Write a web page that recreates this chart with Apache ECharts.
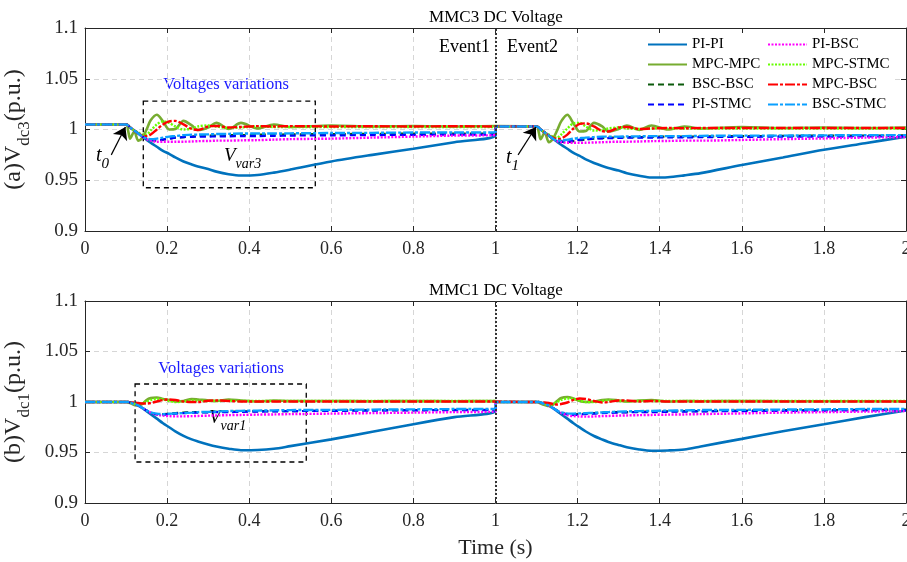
<!DOCTYPE html>
<html><head><meta charset="utf-8">
<script src="https://cdn.jsdelivr.net/npm/echarts@6/dist/echarts.min.js"></script>
<style>html,body{margin:0;padding:0;background:#fff}#c{width:907px;height:562px}</style>
</head><body><div id="c"></div>
<script>
// ---------- DATA ----------
const time = [0, 0.1, 0.105, 0.11, 0.12, 0.13, 0.14, 0.15, 0.16, 0.175, 0.19, 0.205, 0.22, 0.24, 0.26, 0.275, 0.3, 0.32, 0.35, 0.38, 0.42, 0.46, 0.5, 0.6, 0.7, 0.8, 0.9, 1.0,
  1.001, 1.1, 1.105, 1.11, 1.12, 1.13, 1.14, 1.15, 1.16, 1.175, 1.19, 1.205, 1.22, 1.24, 1.26, 1.275, 1.3, 1.32, 1.35, 1.38, 1.42, 1.46, 1.5, 1.6, 1.7, 1.8, 1.9, 2.0];

const seriesNames = ['PI-PI', 'MPC-MPC', 'BSC-BSC', 'PI-STMC', 'PI-BSC', 'MPC-STMC', 'MPC-BSC', 'BSC-STMC'];
const legendCol1 = ['PI-PI', 'MPC-MPC', 'BSC-BSC', 'PI-STMC'];
const legendCol2 = ['PI-BSC', 'MPC-STMC', 'MPC-BSC', 'BSC-STMC'];
const xTicks = { min: 0, max: 2, interval: 0.2 };
const yTicks = { min: 0.9, max: 1.1, interval: 0.05 };

// MMC3 DC voltage (top)
const mmc3_PI_PI = [1.005, 1.005, 1.004, 1.002, 0.999, 0.996, 0.993, 0.990, 0.987, 0.983, 0.979, 0.976, 0.9725, 0.9685, 0.9655, 0.9635, 0.961, 0.9585, 0.956, 0.9547, 0.9552, 0.9575, 0.9605, 0.9685, 0.975, 0.981, 0.9875, 0.994,
  1.003, 1.003, 1.002, 1.000, 0.997, 0.994, 0.991, 0.988, 0.985, 0.981, 0.977, 0.974, 0.9705, 0.967, 0.964, 0.962, 0.9595, 0.957, 0.9545, 0.9527, 0.953, 0.9548, 0.957, 0.965, 0.9725, 0.980, 0.9865, 0.993];
const mmc3_MPC_MPC = [1.005, 1.005, 0.999, 0.991, 0.998, 0.989, 0.992, 1.000, 1.009, 1.0145, 1.008, 1.000, 1.0005, 1.0085, 1.004, 0.9995, 1.002, 1.0065, 1.0005, 1.0065, 1.001, 1.005, 1.0025, 1.004, 1.003, 1.0035, 1.003, 1.0035,
  1.003, 1.003, 0.998, 0.9905, 0.997, 0.9875, 0.991, 0.999, 1.008, 1.0145, 1.006, 0.998, 0.9985, 1.0065, 1.003, 0.998, 1.0005, 1.004, 0.9995, 1.004, 1.000, 1.003, 1.001, 1.0025, 1.0015, 1.002, 1.0015, 1.002];
const mmc3_BSC_BSC = [1.005, 1.005, 1.004, 1.002, 0.999, 0.996, 0.993, 0.991, 0.9895, 0.989, 0.990, 0.991, 0.992, 0.9925, 0.993, 0.9935, 0.994, 0.994, 0.9945, 0.9945, 0.995, 0.995, 0.9952, 0.9955, 0.9957, 0.996, 0.996, 0.9962,
  1.003, 1.003, 1.002, 1.000, 0.997, 0.994, 0.991, 0.989, 0.988, 0.9875, 0.9885, 0.9895, 0.990, 0.991, 0.9915, 0.992, 0.9922, 0.9925, 0.9925, 0.9928, 0.993, 0.993, 0.9932, 0.9935, 0.9937, 0.994, 0.994, 0.9942];
const mmc3_PI_STMC = [1.005, 1.005, 1.004, 1.002, 0.999, 0.996, 0.993, 0.9905, 0.9895, 0.9895, 0.990, 0.991, 0.992, 0.9925, 0.9928, 0.993, 0.993, 0.9932, 0.9933, 0.9935, 0.9935, 0.9937, 0.994, 0.9942, 0.9945, 0.9947, 0.995, 0.995,
  1.003, 1.003, 1.002, 1.000, 0.997, 0.994, 0.991, 0.989, 0.988, 0.988, 0.989, 0.990, 0.9905, 0.991, 0.9913, 0.9915, 0.9917, 0.992, 0.992, 0.992, 0.9922, 0.9922, 0.9925, 0.9927, 0.993, 0.993, 0.9932, 0.9935];
const mmc3_PI_BSC = [1.005, 1.005, 1.004, 1.002, 0.999, 0.996, 0.993, 0.9905, 0.989, 0.988, 0.988, 0.988, 0.988, 0.988, 0.9882, 0.9885, 0.9887, 0.989, 0.989, 0.9893, 0.9895, 0.990, 0.9905, 0.991, 0.992, 0.993, 0.994, 0.9945,
  1.003, 1.003, 1.002, 1.000, 0.997, 0.994, 0.991, 0.9885, 0.9875, 0.987, 0.987, 0.987, 0.987, 0.9872, 0.9875, 0.9877, 0.988, 0.988, 0.9882, 0.9885, 0.9887, 0.989, 0.989, 0.9897, 0.9905, 0.9912, 0.992, 0.9925];
const mmc3_MPC_STMC = [1.005, 1.005, 1.004, 1.002, 0.999, 0.997, 0.995, 0.995, 0.999, 1.005, 1.008, 1.0065, 1.003, 1.000, 1.001, 1.003, 1.004, 1.003, 1.0015, 1.002, 1.003, 1.0025, 1.0025, 1.0025, 1.0025, 1.0025, 1.0025, 1.0025,
  1.003, 1.003, 1.002, 1.000, 0.997, 0.995, 0.993, 0.992, 0.995, 1.001, 1.006, 1.0065, 1.003, 0.999, 0.9995, 1.001, 1.002, 1.001, 1.0005, 1.001, 1.0012, 1.001, 1.001, 1.001, 1.001, 1.001, 1.001, 1.001];
const mmc3_MPC_BSC = [1.005, 1.005, 1.004, 1.002, 0.999, 0.996, 0.994, 0.9935, 0.995, 1.000, 1.005, 1.008, 1.0085, 1.005, 1.0005, 0.9995, 1.003, 1.0035, 1.002, 1.0025, 1.0033, 1.003, 1.0033, 1.003, 1.0032, 1.003, 1.0032, 1.003,
  1.003, 1.003, 1.002, 1.000, 0.997, 0.994, 0.992, 0.9905, 0.991, 0.995, 1.001, 1.0055, 1.006, 1.003, 0.9985, 0.998, 1.002, 1.0025, 1.0005, 1.001, 1.0015, 1.0012, 1.0015, 1.0015, 1.0015, 1.0015, 1.0015, 1.0015];
const mmc3_BSC_STMC = [1.005, 1.005, 1.004, 1.002, 0.999, 0.996, 0.993, 0.991, 0.9905, 0.991, 0.992, 0.993, 0.9935, 0.9945, 0.995, 0.995, 0.9952, 0.9955, 0.9957, 0.996, 0.996, 0.996, 0.9962, 0.9965, 0.9967, 0.997, 0.997, 0.9972,
  1.003, 1.003, 1.002, 1.000, 0.997, 0.994, 0.991, 0.989, 0.989, 0.990, 0.991, 0.9915, 0.992, 0.9925, 0.993, 0.993, 0.993, 0.9932, 0.9933, 0.9935, 0.9935, 0.9935, 0.9937, 0.994, 0.994, 0.9942, 0.9945, 0.9945];

// MMC1 DC voltage (bottom)
const mmc1_PI_PI = [1.000, 1.000, 1.000, 0.9995, 0.998, 0.9965, 0.994, 0.991, 0.988, 0.9835, 0.979, 0.975, 0.971, 0.9665, 0.963, 0.961, 0.958, 0.956, 0.9538, 0.9523, 0.9525, 0.9537, 0.9563, 0.963, 0.9705, 0.978, 0.985, 0.991,
  1.000, 1.000, 1.000, 0.9995, 0.998, 0.9965, 0.994, 0.991, 0.988, 0.9835, 0.979, 0.9748, 0.9708, 0.9663, 0.9628, 0.9605, 0.9575, 0.9553, 0.953, 0.9517, 0.952, 0.953, 0.956, 0.9635, 0.971, 0.978, 0.985, 0.9915];
const mmc1_MPC_MPC = [1.000, 1.000, 0.9995, 0.999, 0.997, 0.9965, 0.998, 1.002, 1.004, 1.0045, 1.003, 1.002, 1.0005, 1.001, 1.003, 1.0025, 1.0015, 1.001, 1.0025, 1.0015, 1.0005, 1.0015, 1.001, 1.001, 1.0008, 1.001, 1.0008, 1.001,
  1.000, 1.000, 0.9995, 0.9985, 0.997, 0.996, 0.9975, 1.001, 1.004, 1.005, 1.0035, 1.001, 1.000, 1.0005, 1.002, 1.0025, 1.0015, 1.0005, 1.0015, 1.002, 1.0005, 1.001, 1.0008, 1.001, 1.0008, 1.0008, 1.0008, 1.0008];
const mmc1_BSC_BSC = [1.000, 1.000, 1.000, 0.9995, 0.998, 0.9965, 0.994, 0.9915, 0.9895, 0.988, 0.988, 0.9885, 0.989, 0.9895, 0.990, 0.990, 0.990, 0.9903, 0.9905, 0.9907, 0.991, 0.991, 0.991, 0.9915, 0.992, 0.992, 0.9922, 0.9925,
  1.000, 1.000, 1.000, 0.9995, 0.998, 0.9965, 0.994, 0.9915, 0.9895, 0.988, 0.9878, 0.988, 0.9885, 0.989, 0.9895, 0.990, 0.990, 0.990, 0.9903, 0.9905, 0.9908, 0.991, 0.991, 0.9915, 0.992, 0.992, 0.9922, 0.9925];
const mmc1_PI_STMC = [1.000, 1.000, 1.000, 0.9995, 0.998, 0.9965, 0.994, 0.9915, 0.9895, 0.9878, 0.9875, 0.988, 0.9885, 0.989, 0.9893, 0.9895, 0.9897, 0.990, 0.990, 0.9902, 0.9905, 0.9907, 0.991, 0.9912, 0.9915, 0.9917, 0.992, 0.992,
  1.000, 1.000, 1.000, 0.9995, 0.998, 0.9965, 0.994, 0.9915, 0.9893, 0.9877, 0.9873, 0.9877, 0.988, 0.9885, 0.989, 0.9892, 0.9895, 0.9897, 0.990, 0.990, 0.9903, 0.9905, 0.9907, 0.991, 0.9912, 0.9915, 0.9917, 0.992];
const mmc1_PI_BSC = [1.000, 1.000, 1.000, 0.9995, 0.998, 0.9965, 0.994, 0.9915, 0.9895, 0.9875, 0.9865, 0.986, 0.9858, 0.9858, 0.986, 0.9862, 0.9865, 0.9867, 0.987, 0.9872, 0.9875, 0.9877, 0.988, 0.9885, 0.989, 0.9895, 0.990, 0.9905,
  1.000, 1.000, 1.000, 0.9995, 0.998, 0.9965, 0.994, 0.9915, 0.9893, 0.987, 0.986, 0.9857, 0.9855, 0.9857, 0.986, 0.9862, 0.9865, 0.9867, 0.987, 0.9872, 0.9875, 0.9877, 0.988, 0.9887, 0.9895, 0.990, 0.9905, 0.991];
const mmc1_MPC_STMC = [1.000, 1.000, 1.000, 0.9995, 0.998, 0.9975, 0.9985, 1.0005, 1.002, 1.003, 1.0025, 1.001, 1.000, 1.0005, 1.0015, 1.0012, 1.001, 1.001, 1.0012, 1.001, 1.001, 1.001, 1.001, 1.001, 1.001, 1.001, 1.001, 1.001,
  1.000, 1.000, 1.000, 0.9995, 0.998, 0.997, 0.998, 1.000, 1.002, 1.0035, 1.003, 1.0015, 1.000, 1.000, 1.001, 1.0015, 1.001, 1.0008, 1.001, 1.001, 1.001, 1.001, 1.001, 1.001, 1.001, 1.001, 1.001, 1.001];
const mmc1_MPC_BSC = [1.000, 1.000, 1.000, 0.9995, 0.9995, 0.999, 0.9985, 0.9985, 0.999, 1.0005, 1.002, 1.0025, 1.002, 1.0005, 1.000, 1.000, 1.0012, 1.0015, 1.001, 1.0005, 1.0005, 1.0005, 1.0005, 1.0005, 1.0005, 1.0005, 1.0005, 1.0005,
  1.000, 1.000, 1.000, 0.9995, 0.9995, 0.999, 0.998, 0.9975, 0.998, 0.9995, 1.002, 1.0035, 1.003, 1.001, 0.9995, 1.000, 1.0015, 1.0015, 1.0005, 1.001, 1.0005, 1.0005, 1.0005, 1.0005, 1.0005, 1.0005, 1.0005, 1.0005];
const mmc1_BSC_STMC = [1.000, 1.000, 1.000, 0.9995, 0.998, 0.9965, 0.994, 0.9915, 0.9898, 0.9885, 0.988, 0.9883, 0.9887, 0.989, 0.9895, 0.990, 0.9902, 0.9905, 0.991, 0.9912, 0.9915, 0.9917, 0.992, 0.9922, 0.9925, 0.9927, 0.993, 0.993,
  1.000, 1.000, 1.000, 0.9995, 0.998, 0.9965, 0.994, 0.9915, 0.9897, 0.9887, 0.9885, 0.9887, 0.989, 0.9893, 0.9897, 0.990, 0.9905, 0.9907, 0.991, 0.9912, 0.9915, 0.9917, 0.992, 0.9922, 0.9925, 0.9927, 0.993, 0.993];

const topValues = { 'PI-PI': mmc3_PI_PI, 'MPC-MPC': mmc3_MPC_MPC, 'BSC-BSC': mmc3_BSC_BSC, 'PI-STMC': mmc3_PI_STMC,
  'PI-BSC': mmc3_PI_BSC, 'MPC-STMC': mmc3_MPC_STMC, 'MPC-BSC': mmc3_MPC_BSC, 'BSC-STMC': mmc3_BSC_STMC };
const bottomValues = { 'PI-PI': mmc1_PI_PI, 'MPC-MPC': mmc1_MPC_MPC, 'BSC-BSC': mmc1_BSC_BSC, 'PI-STMC': mmc1_PI_STMC,
  'PI-BSC': mmc1_PI_BSC, 'MPC-STMC': mmc1_MPC_STMC, 'MPC-BSC': mmc1_MPC_BSC, 'BSC-STMC': mmc1_BSC_STMC };

// ---------- STYLE ----------
const FONT = 'Liberation Serif';
const INK = '#262626';
const styles = {
  'PI-PI':    { color: '#0072BD', type: 'solid', width: 2.6 },
  'MPC-MPC':  { color: '#77AC30', type: 'solid', width: 2.6 },
  'BSC-BSC':  { color: '#0B5A0B', type: [6, 4], width: 2.2 },
  'PI-STMC':  { color: '#0000FF', type: [6, 4], width: 2.2 },
  'PI-BSC':   { color: '#FF00FF', type: [2, 1.5], width: 2.4 },
  'MPC-STMC': { color: '#66FF00', type: [2, 1.5], width: 2.4 },
  'MPC-BSC':  { color: '#FF0000', type: [10, 2, 3, 2], width: 2.4 },
  'BSC-STMC': { color: '#0AA0FF', type: [10, 2, 3, 2], width: 2.4 }
};

function makeSeries(name, vals, axisIdx) {
  const st = styles[name];
  return {
    name, type: 'line', xAxisIndex: axisIdx, yAxisIndex: axisIdx,
    data: time.map((t, i) => [t, vals[i]]),
    symbol: 'none', showSymbol: false, smooth: 0.3, animation: false,
    itemStyle: { color: st.color },
    lineStyle: { color: st.color, type: st.type, width: st.width },
    emphasis: { disabled: true }
  };
}

const series = [];
seriesNames.forEach(n => series.push(makeSeries(n, topValues[n], 0)));
seriesNames.forEach(n => series.push(makeSeries(n, bottomValues[n], 2)));

// annotations (event line, arrows, boxes)
const eventLine = { xAxis: 1, lineStyle: { color: '#333', type: [2, 2], width: 2 } };
series[0].markLine = {
  silent: true, animation: false, symbol: ['none', 'none'], label: { show: false },
  lineStyle: { color: '#000', type: 'solid', width: 1.2 },
  data: [
    eventLine,
    [{ coord: [0.064, 0.975], symbol: 'none' }, { coord: [0.0985, 1.0025], symbol: 'arrow', symbolSize: 12 }],
    [{ coord: [1.055, 0.975], symbol: 'none' }, { coord: [1.0985, 1.0025], symbol: 'arrow', symbolSize: 12 }]
  ]
};
series[0].markArea = {
  silent: true, animation: false, label: { show: false },
  itemStyle: { color: 'rgba(0,0,0,0)', borderColor: '#000', borderWidth: 1.3, borderType: [5, 4] },
  data: [[{ coord: [0.142, 1.0279] }, { coord: [0.561, 0.9426] }]]
};
series[8].markLine = {
  silent: true, animation: false, symbol: ['none', 'none'], label: { show: false },
  data: [eventLine]
};
series[8].markArea = {
  silent: true, animation: false, label: { show: false },
  itemStyle: { color: 'rgba(0,0,0,0)', borderColor: '#000', borderWidth: 1.3, borderType: [5, 4] },
  data: [[{ coord: [0.122, 1.0178] }, { coord: [0.539, 0.9406] }]]
};

function xAx(grid, pos, withLabels, name) {
  return {
    type: 'value', gridIndex: grid, position: pos, min: xTicks.min, max: xTicks.max, interval: xTicks.interval,
    axisLine: { show: true, onZero: false, lineStyle: { color: INK, width: 1 } },
    axisTick: { show: true, inside: true, length: 5, lineStyle: { color: INK } },
    axisLabel: { show: withLabels, fontFamily: FONT, fontSize: 18, color: INK, margin: 9 },
    splitLine: { show: withLabels, lineStyle: { color: '#d6d6d6', type: [5, 4], width: 1 } },
    name: name || '', nameLocation: 'middle', nameGap: 34,
    nameTextStyle: { fontFamily: FONT, fontSize: 22, color: INK }
  };
}
function yAx(grid, pos, withLabels, name) {
  return {
    type: 'value', gridIndex: grid, position: pos, min: yTicks.min, max: yTicks.max, interval: yTicks.interval,
    axisLine: { show: true, onZero: false, lineStyle: { color: INK, width: 1 } },
    axisTick: { show: true, inside: true, length: 5, lineStyle: { color: INK } },
    axisLabel: { show: withLabels, fontFamily: FONT, fontSize: 19, color: INK, margin: 7,
      formatter: v => String(parseFloat(v.toFixed(2))) },
    splitLine: { show: withLabels, lineStyle: { color: '#d6d6d6', type: [5, 4], width: 1 } },
    name: name || '', nameLocation: 'middle', nameGap: 52, nameRotate: 90,
    nameTextStyle: {
      color: INK,
      rich: {
        n: { fontFamily: FONT, fontSize: 24, color: INK, lineHeight: 31, verticalAlign: 'top' },
        s: { fontFamily: FONT, fontSize: 17, color: INK, lineHeight: 17, verticalAlign: 'bottom' }
      }
    }
  };
}

const legendBase = {
  orient: 'vertical', top: 33, itemWidth: 39, itemHeight: 14, itemGap: 5,
  backgroundColor: '#fff', padding: [4, 4, 4, 6], selectedMode: false,
  itemStyle: { color: 'rgba(0,0,0,0)', borderColor: 'rgba(0,0,0,0)', borderWidth: 0, opacity: 0 },
  textStyle: { fontFamily: FONT, fontSize: 15, color: '#000', lineHeight: 14 }
};

const richSub = (big, small) => ({
  b: { fontFamily: FONT, fontStyle: 'italic', fontSize: big, fill: '#000', lineHeight: big + 6, verticalAlign: 'top' },
  s: { fontFamily: FONT, fontStyle: 'italic', fontSize: small, fill: '#000', lineHeight: small, verticalAlign: 'bottom' }
});

const option = {
  backgroundColor: '#fff',
  animation: false,
  grid: [
    { left: 85, right: 1, top: 28, height: 203, containLabel: false, outerBoundsMode: 'none' },
    { left: 85, right: 1, top: 301, height: 202, containLabel: false, outerBoundsMode: 'none' }
  ],
  xAxis: [xAx(0, 'bottom', true), xAx(0, 'top', false), xAx(1, 'bottom', true, 'Time (s)'), xAx(1, 'top', false)],
  yAxis: [yAx(0, 'left', true, '{n|(a)V}{s|dc3}{n|(p.u.)}'), yAx(0, 'right', false),
          yAx(1, 'left', true, '{n|(b)V}{s|dc1}{n|(p.u.)}'), yAx(1, 'right', false)],
  legend: [
    Object.assign({}, legendBase, { left: 641, data: legendCol1 }),
    Object.assign({}, legendBase, { left: 761, data: legendCol2 })
  ],
  graphic: [
    { type: 'text', x: 496, y: 18, style: { text: 'MMC3 DC Voltage', fontFamily: FONT, fontSize: 17, fill: '#000', align: 'center', verticalAlign: 'middle' } },
    { type: 'text', x: 496, y: 291, style: { text: 'MMC1 DC Voltage', fontFamily: FONT, fontSize: 17, fill: '#000', align: 'center', verticalAlign: 'middle' } },
    { type: 'text', x: 490, y: 47, style: { text: 'Event1', fontFamily: FONT, fontSize: 18, fill: '#000', align: 'right', verticalAlign: 'middle' } },
    { type: 'text', x: 507, y: 47, style: { text: 'Event2', fontFamily: FONT, fontSize: 18, fill: '#000', align: 'left', verticalAlign: 'middle' } },
    { type: 'text', x: 226, y: 85, style: { text: 'Voltages variations', fontFamily: FONT, fontSize: 16.5, fill: '#1a1aff', align: 'center', verticalAlign: 'middle' } },
    { type: 'text', x: 221, y: 369, style: { text: 'Voltages variations', fontFamily: FONT, fontSize: 16.5, fill: '#1a1aff', align: 'center', verticalAlign: 'middle' } },
    { type: 'text', x: 224, y: 146, style: { text: '{b|V}{s|var3}', rich: richSub(19, 14) } },
    { type: 'text', x: 209, y: 408, style: { text: '{b|V}{s|var1}', rich: richSub(19, 14) } },
    { type: 'text', x: 96, y: 146, style: { text: '{b|t}{s|0}', rich: richSub(20, 15) } },
    { type: 'text', x: 506, y: 148, style: { text: '{b|t}{s|1}', rich: richSub(20, 15) } }
  ],
  series
};

const chart = echarts.init(document.getElementById('c'), null, { renderer: 'canvas' });
chart.setOption(option);
</script></body></html>
